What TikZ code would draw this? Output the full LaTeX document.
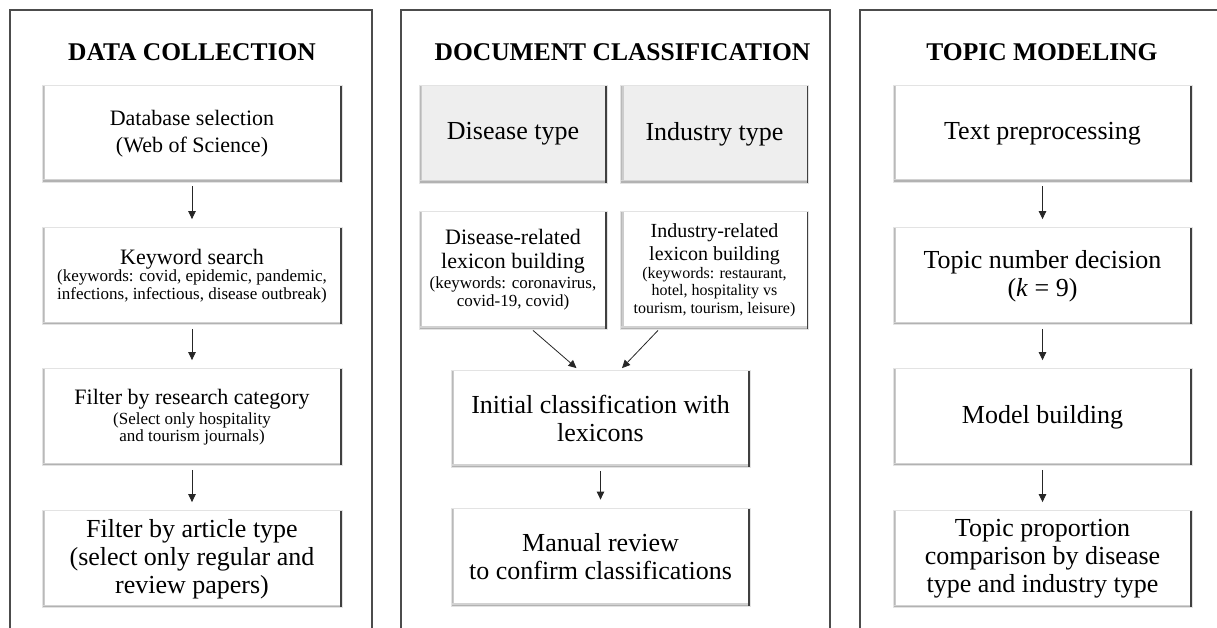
\documentclass[tikz,border=0pt]{standalone}
\usepackage{fontspec}
\setmainfont{Liberation Serif}
\usetikzlibrary{arrows.meta}
\newcommand\fs[2]{\fontsize{#1}{#2}\selectfont}
\newcommand\fbig{\fs{22}{24}}
\newcommand\fsml{\fs{17}{18}}
\newcommand\fsmx{\fs{16}{17.5}}
\newcommand\fmid{\fs{20}{22}}
\tikzset{
  panel/.style={draw=black!70, line width=1.4pt},
  ttl/.style={font=\fs{25.5}{30}\bfseries, inner sep=0pt},
  box/.style={draw=gray!22, line width=0.8pt, fill=white, align=center, inner sep=0pt,
    font=\fs{26}{28},
    path picture={
      \draw[line width=6pt, gray!40] (path picture bounding box.north west) -- (path picture bounding box.south west);
      \draw[line width=3pt, gray!55] (path picture bounding box.north west) -- (path picture bounding box.south west);
      \draw[line width=6pt, gray!35] (path picture bounding box.south west) -- (path picture bounding box.south east);
      \draw[line width=3pt, gray!60] (path picture bounding box.south west) -- (path picture bounding box.south east);
      \draw[line width=4pt, black!75] (path picture bounding box.south east) -- (path picture bounding box.north east);
    }},
  wide/.style={minimum width=300pt, minimum height=97pt},
  half/.style={minimum width=188pt},
  shade/.style={fill=gray!13},
  arr/.style={-{Triangle[length=8pt,width=7.5pt]}, line width=0.8pt, black!85},
  varr/.style={arr, shorten <=4pt, shorten >=8pt}
}
\begin{document}
\begin{tikzpicture}[x=1pt,y=-1pt]
\useasboundingbox (0,0) rectangle (1217,628);
% panels
\draw[panel] (10,640) -- (10,10) -- (372,10) -- (372,640);
\draw[panel] (401,640) -- (401,10) -- (830,10) -- (830,640);
\draw[panel] (860,640) -- (860,10) -- (1230,10);
% titles
\node[ttl] (t1) at (192,52) {DATA COLLECTION};
\node[ttl] (t2) at (622.5,52) {DOCUMENT CLASSIFICATION};
\node[ttl] (t3) at (1042,52) {TOPIC MODELING};
% panel 1
\node[box,wide,font=\fs{22}{27}] (a1) at (192,133.5) {Database selection\\(Web of Science)};
\node[box,wide,font=\fs{17}{17.5}] (a2) at (192,276) {\fbig Keyword search\\\fsml (keywords: covid, epidemic, pandemic,\\\fsml infections, infectious, disease outbreak)};
\node[box,wide,font=\fs{17}{17.5}] (a3) at (192,417) {\fbig Filter by research category\\[2.5pt]\fsml (Select only hospitality\\\fsml and tourism journals)};
\node[box,wide] (a4) at (192,559) {Filter by article type\\(select only regular and\\review papers)};
\draw[varr] (a1) -- (a2);
\draw[varr] (a2) -- (a3);
\draw[varr] (a3) -- (a4);
% panel 2
\node[box,half,shade,minimum height=98pt] (d1) at (513,134) {Disease type};
\node[box,half,shade,minimum height=98pt] (d2) at (714.5,134) {Industry type};
\node[box,half,minimum height=118pt,font=\fs{17}{18}] (l1) at (513,270) {\fbig Disease-related\\[6pt]\fbig lexicon building\\[2pt]\fsml (keywords: coronavirus,\\\fsml covid-19, covid)};
\node[box,half,minimum height=118pt,font=\fs{16}{17.5}] (l2) at (714.5,270) {\fmid Industry-related\\[4.5pt]\fmid lexicon building\\\fsmx (keywords: restaurant,\\\fsmx hotel, hospitality vs\\\fsmx tourism, tourism, leisure)};
\node[box,minimum width=299pt,minimum height=97pt] (i1) at (600.5,418.5) {Initial classification with\\lexicons};
\node[box,minimum width=299pt,minimum height=98pt] (m1) at (600.5,557) {Manual review\\to confirm classifications};
\draw[arr] ([xshift=20pt,yshift=-1pt]l1.south) -- ([xshift=-24pt,yshift=1.5pt]i1.north);
\draw[arr] ([xshift=-56.5pt,yshift=-1pt]l2.south) -- ([xshift=21.5pt,yshift=1.5pt]i1.north);
\draw[varr] (i1) -- (m1);
% panel 3
\node[box,minimum width=299pt,minimum height=97pt] (p1) at (1042.5,133.5) {Text preprocessing};
\node[box,minimum width=299pt,minimum height=97pt] (p2) at (1042.5,276) {Topic number decision\\(\textit{k} = 9)};
\node[box,minimum width=299pt,minimum height=97pt] (p3) at (1042.5,417) {Model building};
\node[box,minimum width=299pt,minimum height=97pt] (p4) at (1042.5,559) {Topic proportion\\comparison by disease\\type and industry type};
\draw[varr] (p1) -- (p2);
\draw[varr] (p2) -- (p3);
\draw[varr] (p3) -- (p4);
\end{tikzpicture}
\end{document}
